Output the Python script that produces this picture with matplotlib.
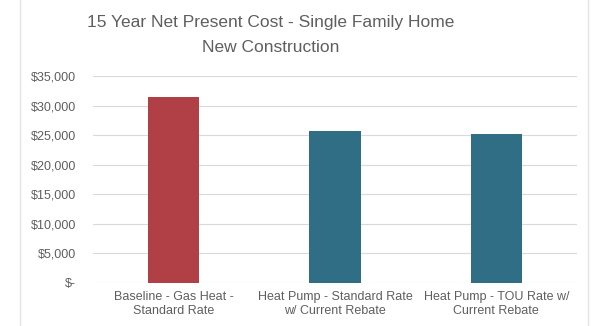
import matplotlib.pyplot as plt
import matplotlib.patches as patches
from matplotlib.ticker import FuncFormatter

# 15 year net present cost per scenario
scenarios = ["Baseline - Gas Heat -\nStandard Rate",
             "Heat Pump - Standard Rate\nw/ Current Rebate",
             "Heat Pump - TOU Rate w/\nCurrent Rebate"]
costs = [31500, 25700, 25200]
bar_colors = ["#B04045", "#2F6E84", "#2F6E84"]
yticks = [0, 5000, 10000, 15000, 20000, 25000, 30000, 35000]

plt.rcParams['font.family'] = ['Liberation Sans', 'DejaVu Sans']
text_color = "#5F5F5F"


def money(v, pos):
    if v == 0:
        return "$-"
    return "${:,.0f}".format(v)


def main():
    fig = plt.figure(figsize=(5.92, 3.26), dpi=100)
    ax = fig.add_axes([93 / 592, 1 - 283 / 326, 484 / 592, 207 / 326])

    x = range(len(scenarios))
    ax.bar(x, costs, width=0.32, color=bar_colors, zorder=3)

    ax.set_ylim(0, 35000)
    ax.set_xlim(-0.5, len(scenarios) - 0.5)
    ax.set_yticks(yticks)
    ax.yaxis.set_major_formatter(FuncFormatter(money))
    ax.set_xticks(list(x))
    ax.set_xticklabels(scenarios, fontsize=9, color=text_color, linespacing=1.15)
    ax.tick_params(axis='y', labelsize=9, labelcolor=text_color, length=0, pad=12)
    ax.tick_params(axis='x', length=0, pad=6)
    ax.grid(axis='y', color="#D9D9D9", linewidth=0.8, zorder=0)
    for s in ax.spines.values():
        s.set_visible(False)

    fig.text(271 / 592, 1 - 22 / 326, "15 Year Net Present Cost - Single Family Home",
             ha='center', va='center', fontsize=12.5, color=text_color)
    fig.text(271 / 592, 1 - 47 / 326, "New Construction",
             ha='center', va='center', fontsize=12.5, color=text_color)

    # light chart border
    fig.patches.append(patches.Rectangle((20 / 592, -0.1), 568 / 592, 1.2,
                                         transform=fig.transFigure, fill=False,
                                         edgecolor="#E4E4E4", linewidth=1))

    fig.savefig("out.png", dpi=100)


if __name__ == "__main__":
    main()
